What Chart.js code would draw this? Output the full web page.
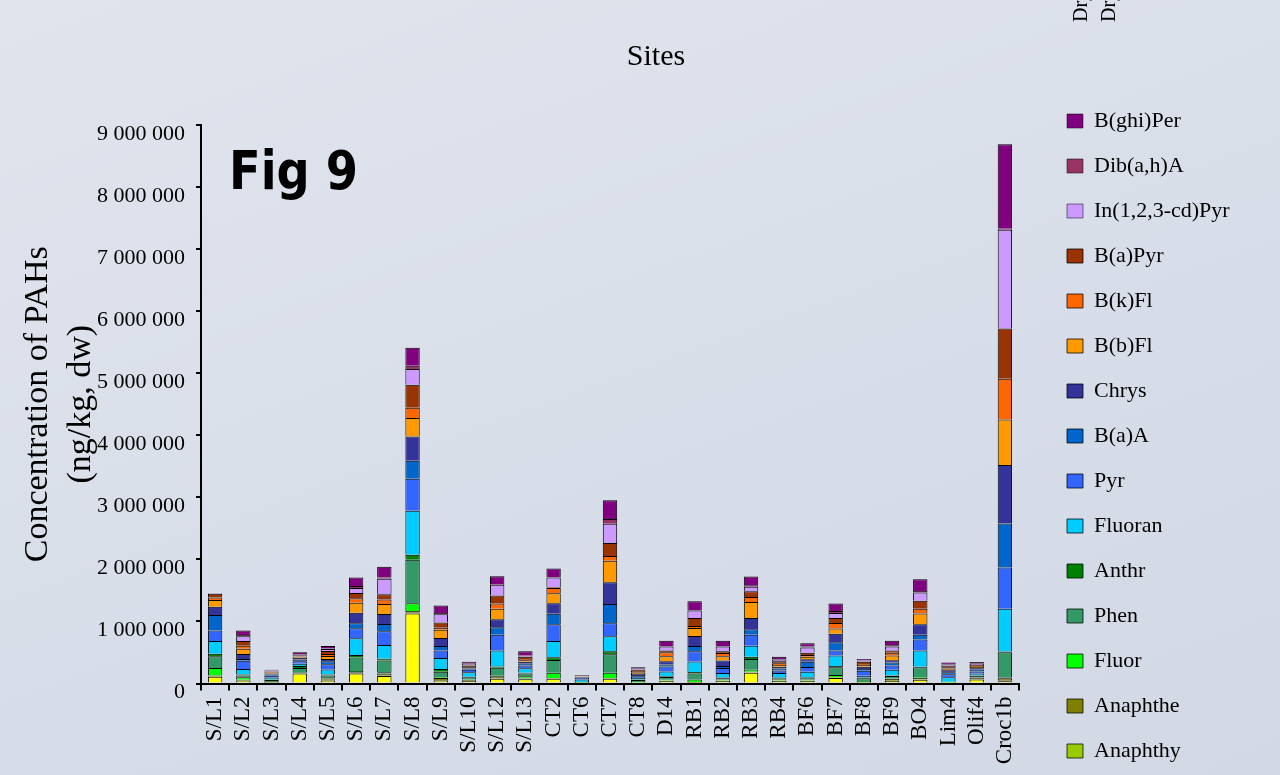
<!DOCTYPE html>
<html>
<head>
<meta charset="utf-8">
<title>Fig 9 - Concentration of PAHs per site</title>
<script src="https://cdn.jsdelivr.net/npm/chart.js@4.4.1/dist/chart.umd.min.js"></script>
<style>
  html, body { margin: 0; padding: 0; overflow: hidden; }
  #view {
    width: 1280px; height: 775px; overflow: hidden; position: relative;
    background: linear-gradient(160deg, #e0e4ed 0%, #d8dee9 55%, #d2d8e4 100%);
  }
  /* canvas is a bit taller than the window: the last legend entry falls below the edge */
  #box { position: absolute; left: 0; top: 0; width: 1280px; height: 830px; }
</style>
</head>
<body>
<div id="view"><div id="box"><canvas id="pahChart"></canvas></div></div>
<script>
var serif = "'Liberation Serif', 'Times New Roman', serif";

var sites = ["S/L1", "S/L2", "S/L3", "S/L4", "S/L5", "S/L6", "S/L7", "S/L8", "S/L9", "S/L10",
             "S/L12", "S/L13", "CT2", "CT6", "CT7", "CT8", "D14", "RB1", "RB2", "RB3",
             "RB4", "BF6", "BF7", "BF8", "BF9", "BO4", "Lim4", "Olif4", "Croc1b"];

// values in thousands of ng/kg dw, one per site
var naphth   = [110, 50, 5, 160, 50, 160, 120, 1130, 45, 40, 75, 70, 75, 5, 75, 5, 40, 10, 40, 175, 40, 40, 90, 5, 40, 60, 5, 65, 35];
var anaphthy = [10, 5, 0, 5, 10, 10, 10, 10, 10, 5, 10, 5, 5, 0, 5, 0, 5, 5, 5, 5, 5, 5, 5, 5, 5, 5, 0, 5, 10];
var anaphthe = [10, 5, 0, 5, 20, 10, 30, 30, 35, 10, 30, 10, 10, 0, 10, 5, 5, 10, 5, 10, 5, 5, 10, 5, 30, 25, 5, 25, 40];
var fluor    = [120, 40, 10, 10, 20, 20, 20, 125, 10, 10, 10, 30, 85, 5, 85, 5, 10, 40, 10, 35, 20, 10, 30, 10, 10, 10, 5, 5, 10];
var phen     = [190, 30, 40, 70, 30, 220, 190, 700, 90, 35, 130, 45, 205, 10, 295, 40, 45, 95, 25, 170, 15, 35, 125, 60, 35, 160, 10, 20, 410];
var anthr    = [40, 15, 10, 30, 15, 40, 30, 80, 45, 10, 20, 15, 45, 5, 50, 10, 10, 25, 10, 35, 10, 10, 20, 10, 10, 10, 5, 10, 10];
var fluoran  = [205, 90, 30, 40, 80, 270, 220, 710, 175, 70, 255, 70, 260, 40, 240, 25, 80, 170, 75, 180, 75, 85, 170, 30, 90, 260, 70, 30, 690];
var pyr      = [170, 130, 30, 40, 85, 160, 220, 515, 120, 40, 255, 45, 270, 30, 210, 25, 80, 165, 80, 175, 40, 75, 80, 80, 70, 180, 50, 35, 665];
var baa      = [250, 30, 20, 25, 50, 80, 120, 290, 75, 20, 120, 30, 170, 10, 310, 20, 30, 85, 30, 90, 30, 85, 135, 30, 50, 75, 30, 25, 710];
var chrys    = [130, 80, 15, 30, 35, 170, 160, 390, 130, 20, 130, 30, 170, 5, 350, 20, 55, 160, 90, 180, 30, 40, 135, 35, 35, 170, 35, 25, 940];
var bbfl     = [110, 85, 15, 15, 50, 160, 160, 300, 130, 20, 170, 25, 160, 5, 350, 15, 80, 130, 70, 260, 30, 40, 85, 30, 75, 175, 25, 20, 735];
var bkfl     = [40, 50, 10, 10, 30, 75, 75, 165, 35, 10, 85, 20, 85, 2, 75, 10, 65, 30, 50, 80, 25, 30, 90, 15, 45, 75, 20, 15, 655];
var bapyr    = [60, 75, 10, 15, 50, 85, 85, 370, 85, 10, 130, 35, 10, 3, 210, 35, 25, 130, 30, 90, 35, 35, 80, 35, 35, 130, 25, 20, 810];
var indeno   = [5, 75, 10, 15, 30, 80, 250, 255, 130, 15, 170, 15, 160, 3, 310, 10, 65, 120, 75, 75, 25, 85, 80, 15, 65, 130, 20, 15, 1590];
var dibah    = [5, 20, 5, 5, 10, 30, 20, 50, 20, 10, 15, 10, 5, 2, 75, 15, 10, 10, 10, 25, 10, 15, 35, 10, 20, 25, 10, 10, 20];
var bghiper  = [5, 75, 10, 30, 40, 140, 170, 290, 120, 25, 125, 65, 140, 10, 305, 20, 85, 140, 85, 140, 35, 55, 120, 20, 75, 190, 25, 20, 1360];

// stacking order, bottom first
var seriesNames  = ["Naphth", "Anaphthy", "Anaphthe", "Fluor", "Phen", "Anthr", "Fluoran", "Pyr", "B(a)A", "Chrys",
                    "B(b)Fl", "B(k)Fl", "B(a)Pyr", "In(1,2,3-cd)Pyr", "Dib(a,h)A", "B(ghi)Per"];
var seriesValues = [naphth, anaphthy, anaphthe, fluor, phen, anthr, fluoran, pyr, baa, chrys,
                    bbfl, bkfl, bapyr, indeno, dibah, bghiper];
var seriesColors = ["#FFFF00", "#99CC00", "#808000", "#00FF00", "#339966", "#008000", "#00CCFF", "#3366FF", "#0066CC", "#333399",
                    "#FF9900", "#FF6600", "#993300", "#CC99FF", "#993366", "#800080"];

// 9000 (thousands) -> "9 000 000"
function formatTick(v) {
    return String(Math.round(v * 1000)).replace(/\B(?=(\d{3})+(?!\d))/g, " ");
}

// one dividing line per segment (its top edge); the thinnest slivers get none
function segmentBorder(c) {
    if (c.raw !== undefined && c.raw < 8) {
        return { top: 0, left: 1, right: 1, bottom: 0 };
    }
    return { top: 1, left: 1, right: 1, bottom: 0 };
}

// free text lying on the slide: the "Fig 9" tag and the clipped labels in the corner
var slideText = {
    id: "slideText",
    afterDraw: function(chart) {
        var ctx = chart.ctx;
        ctx.save();
        ctx.fillStyle = "#000";
        ctx.font = "bold 54px 'DejaVu Sans', sans-serif";
        ctx.textBaseline = "alphabetic";
        var w = ctx.measureText("Fig 9").width;
        ctx.translate(229, 189);
        ctx.scale(129 / w, 1);
        ctx.fillText("Fig 9", 0, 0);
        ctx.restore();

        ctx.save();
        ctx.fillStyle = "#000";
        ctx.font = "20px " + serif;
        [1087, 1115].forEach(function(x) {
            ctx.save();
            ctx.translate(x, 22);
            ctx.rotate(-Math.PI / 2);
            ctx.fillText("Dry", 0, 0);
            ctx.restore();
        });
        ctx.restore();
    }
};

var datasets = [];
for (var i = 0; i < seriesNames.length; i++) {
    datasets.push({
        label: seriesNames[i],
        data: seriesValues[i],
        backgroundColor: seriesColors[i],
        borderColor: "#000",
        borderWidth: segmentBorder,
        borderSkipped: false,
        barPercentage: 0.51,
        categoryPercentage: 1
    });
}

new Chart(document.getElementById("pahChart"), {
    type: "bar",
    data: { labels: sites, datasets: datasets },
    plugins: [slideText],
    options: {
        responsive: true,
        maintainAspectRatio: false,
        animation: false,
        devicePixelRatio: 1,
        layout: { padding: { left: 74, right: 42, top: 0, bottom: 0 } },
        plugins: {
            title: {
                display: true,
                text: "Sites",
                color: "#000",
                font: { family: serif, size: 30, weight: "normal", lineHeight: 1.2 },
                padding: { top: 39, bottom: 50 }
            },
            legend: {
                position: "right",
                align: "end",
                reverse: true,
                onClick: null,
                labels: {
                    color: "#000",
                    font: { family: serif, size: 22 },
                    boxWidth: 16,
                    boxHeight: 14,
                    padding: 23
                }
            },
            tooltip: { enabled: false }
        },
        scales: {
            x: {
                stacked: true,
                grid: { drawOnChartArea: false, drawTicks: true, tickLength: 7, color: "#000", lineWidth: 2, offset: true },
                border: { color: "#000", width: 2 },
                ticks: {
                    autoSkip: false, minRotation: 90, maxRotation: 90, padding: 6,
                    color: "#000", font: { family: serif, size: 23 }
                },
                afterFit: function(scale) { scale.height = 146.5; }
            },
            y: {
                stacked: true,
                min: 0,
                max: 9000,
                grid: { drawOnChartArea: false, drawTicks: true, tickLength: 5, color: "#000", lineWidth: 2 },
                border: { color: "#000", width: 2 },
                ticks: {
                    stepSize: 1000, padding: 11, labelOffset: 9,
                    color: "#000", font: { family: serif, size: 22 },
                    callback: function(v) { return formatTick(v); }
                },
                title: {
                    display: true,
                    text: ["Concentration of PAHs", "(ng/kg, dw)"],
                    color: "#000",
                    font: { family: serif, size: 34, lineHeight: 1.265 },
                    padding: { top: -57, bottom: 0 }
                },
                afterFit: function(scale) { scale.width = 127; }
            },
            // empty strip between the plot and the legend
            gap: {
                type: "linear",
                position: "right",
                grid: { display: false },
                border: { display: false },
                ticks: { display: false },
                afterFit: function(scale) { scale.width = 25; }
            }
        }
    }
});
</script>
</body>
</html>
